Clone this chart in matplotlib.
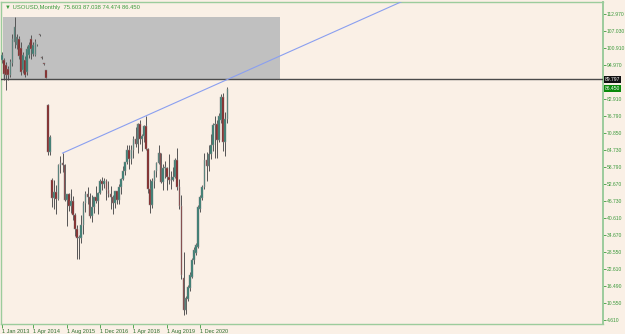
import matplotlib
matplotlib.use("Agg")
import matplotlib.pyplot as plt
from matplotlib.patches import Rectangle

plt.rcParams['font.family'] = ['Liberation Sans', 'DejaVu Sans']

# Monthly USOUSD candles, Jan 2013 .. Jan 2022 (index 0 = Jan 2013)
opens = [96.7, 96.7, 94.9, 93.5, 91.4, 95.5, 103.0, 102.0, 104.0, 101.0, 93.0, 96.7,
         92.4, 98.5, 104.0, 98.9, 98.5, 101.8, 105.8, 97.8, 95.5, 93.0, 80.7, 64.1,
         54.2, 47.8, 49.8, 47.6, 59.6, 60.3, 59.5, 47.1, 49.2, 45.1, 46.6, 41.65,
         37.0, 33.6, 33.75, 38.3, 45.9, 49.1, 48.3, 41.6, 44.7, 48.2, 46.9, 49.4,
         53.7, 52.8, 54.0, 50.6, 49.3, 48.3, 46.0, 50.2, 47.2, 51.7, 54.4, 57.4,
         60.4, 64.7, 61.6, 64.9, 68.6, 67.0, 74.1, 68.8, 69.8, 73.2, 65.3, 50.9,
         45.4, 53.8, 57.2, 60.1, 63.9, 53.5, 58.5, 58.6, 55.1, 54.1, 54.2, 55.2,
         61.1, 51.6, 44.8, 19.5, 8.2, 12.0, 16.0, 20.0, 25.8, 28.5, 30.5, 44.0,
         47.8, 51.7, 61.3, 59.2, 63.5, 66.6, 73.5, 73.9, 68.5, 75.5, 83.5, 67.6,
         75.603]
highs = [99.5, 97.5, 96.0, 94.5, 97.0, 106.0, 112.0, 106.0, 105.0, 103.0, 99.5, 98.0,
         101.5, 103.0, 105.5, 103.0, 104.0, 102.3, 106.0, 98.0, 95.7, 93.2, 81.0, 70.0,
         55.0, 54.2, 52.5, 59.9, 62.6, 63.7, 59.9, 49.3, 49.4, 50.9, 48.4, 42.6,
         38.4, 34.8, 41.9, 46.8, 50.2, 51.7, 49.4, 48.8, 48.3, 51.9, 49.9, 54.5,
         55.2, 54.9, 54.6, 53.8, 52.0, 49.0, 50.4, 50.4, 52.9, 54.9, 59.1, 60.5,
         66.7, 66.7, 66.6, 69.6, 72.8, 74.5, 75.3, 70.5, 73.8, 76.9, 65.6, 54.5,
         55.0, 57.8, 60.7, 66.6, 63.9, 59.9, 60.9, 58.8, 63.4, 57.4, 58.7, 61.8,
         65.6, 54.7, 48.7, 28.7, 13.0, 17.0, 21.5, 26.5, 30.5, 32.0, 45.5, 49.0,
         52.5, 63.8, 64.0, 66.5, 70.5, 74.5, 77.0, 75.5, 77.8, 84.5, 85.0, 78.3,
         87.038]
lows = [95.5, 89.6, 86.1, 89.5, 90.5, 94.5, 101.0, 100.5, 97.0, 91.5, 92.0, 90.5,
        91.5, 97.5, 97.0, 98.0, 98.0, 101.6, 105.2, 97.0, 95.0, 90.2, 63.0, 63.0,
        44.5, 44.0, 42.0, 47.0, 56.5, 57.0, 46.7, 37.8, 43.2, 42.6, 40.0, 34.5,
        26.2, 26.05, 32.0, 35.2, 43.0, 45.8, 40.6, 39.2, 42.5, 46.2, 42.2, 49.3,
        50.7, 51.2, 47.1, 48.2, 43.8, 42.1, 44.3, 45.6, 45.6, 49.1, 54.2, 55.8,
        59.9, 58.1, 59.9, 62.0, 66.0, 63.6, 67.0, 64.4, 67.6, 64.9, 49.4, 42.4,
        44.4, 51.2, 55.3, 60.0, 53.0, 50.6, 54.9, 50.5, 52.8, 50.9, 54.0, 55.0,
        50.6, 44.0, 19.3, 6.4, 6.9, 11.5, 15.0, 19.5, 24.5, 27.5, 30.0, 43.0,
        47.0, 51.0, 54.0, 57.5, 61.5, 64.5, 62.0, 61.8, 67.5, 74.5, 64.5, 62.5,
        74.474]
closes = [98.5, 91.7, 91.4, 91.4, 96.0, 104.0, 108.5, 104.8, 98.0, 92.5, 98.5, 91.4,
          100.6, 102.0, 100.6, 102.0, 103.0, 102.0, 105.5, 97.3, 95.2, 90.4, 64.1, 69.4,
          47.8, 49.8, 47.6, 59.6, 60.3, 59.5, 47.1, 49.2, 45.1, 46.6, 41.65, 37.0,
          33.6, 33.75, 38.3, 45.9, 49.1, 48.3, 41.6, 44.7, 48.2, 46.9, 49.4, 53.7,
          52.8, 54.0, 50.6, 49.3, 48.3, 46.0, 50.2, 47.2, 51.7, 54.4, 57.4, 60.4,
          64.7, 61.6, 64.9, 68.6, 67.0, 74.1, 68.8, 69.8, 73.2, 65.3, 50.9, 45.4,
          53.8, 57.2, 60.1, 63.9, 53.5, 58.5, 58.6, 55.1, 54.1, 54.2, 55.2, 61.1,
          51.6, 44.8, 20.5, 8.2, 12.4, 16.3, 20.5, 25.8, 29.4, 31.2, 44.5, 48.2,
          51.7, 61.3, 59.2, 63.5, 66.6, 73.5, 73.9, 68.5, 77.0, 83.5, 67.6, 75.6,
          86.450]

# x labels (month index from Jan 2013)
date_ticks = [0, 15, 31, 47, 63, 79, 95]
date_labels = ["1 Jan 2013", "1 Apr 2014", "1 Aug 2015", "1 Dec 2016",
               "1 Apr 2018", "1 Aug 2019", "1 Dec 2020"]
price_ticks = [112.970, 107.030, 100.910, 94.970, 82.910, 76.790, 70.850, 64.730,
               58.790, 52.670, 46.730, 40.610, 34.670, 28.550, 22.610, 16.490,
               10.550, 4.610]

hline_price = 89.797
last_price = 86.450
# trend line anchors (month index, price)
trend_x = [29, 69]
trend_y = [63.7, 76.9]
# grey rectangle (month index range, price range)
rect_x = [0.6, 133]
rect_y = [89.797, 112.0]

BG = '#faf0e6'
GREEN = '#3c9a3c'
AXIS = '#9ccc9c'
BULL = '#2e7d6f'
BEAR = '#841b1b'

fig = plt.figure(figsize=(6.25, 3.34), dpi=100, facecolor=BG)
ax = fig.add_axes([0.0016, 0.0299, 0.9632, 0.9940 - 0.0299])
ax.set_facecolor(BG)

ax.add_patch(Rectangle((rect_x[0], rect_y[0]), rect_x[1] - rect_x[0], rect_y[1] - rect_y[0],
                       facecolor='#c0c0c0', edgecolor='none', zorder=1))

n = len(opens)
idx = list(range(n))
ax.vlines(idx, lows, highs, color='#555555', linewidth=0.7, zorder=3)
bottoms = [min(o, c) for o, c in zip(opens, closes)]
heights = [max(abs(c - o), 0.25) for o, c in zip(opens, closes)]
colors = [BULL if c >= o else BEAR for o, c in zip(opens, closes)]
ax.bar(idx, heights, bottom=bottoms, width=0.8, color=colors,
       edgecolor='#8c8c8c', linewidth=0.35, zorder=4)

ax.axhline(hline_price, color='#4a4a4a', linewidth=1.0, zorder=5)

# extend the trend line as a ray
slope = (trend_y[1] - trend_y[0]) / (trend_x[1] - trend_x[0])
ray_end = 300
ax.plot([trend_x[0], ray_end], [trend_y[0], trend_y[0] + slope * (ray_end - trend_x[0])],
        color='#8a9ff0', linewidth=0.8, zorder=5)

ax.set_xlim(-0.48, 288)
ax.set_ylim(3.19, 117.2)

ax.yaxis.tick_right()
ax.set_yticks(price_ticks)
ax.set_yticklabels([f"{p:.3f}" for p in price_ticks])
ax.tick_params(axis='y', colors=GREEN, labelsize=3.6, length=2, width=0.6, pad=0.6)
ax.set_xticks(date_ticks)
ax.set_xticklabels(date_labels)
ax.tick_params(axis='x', colors=GREEN, labelsize=4, length=3, width=0.6, pad=0.5)
for lbl in ax.get_xticklabels():
    lbl.set_ha('left')
    lbl.set_color('#2f6f2f')

for sp in ax.spines.values():
    sp.set_color(AXIS)
    sp.set_linewidth(1.0)
ax.spines['right'].set_linewidth(1.4)

# price boxes on the axis
ytr = ax.get_yaxis_transform()
ax.text(1.003, hline_price, f"{hline_price:.3f}", transform=ytr, fontsize=3.6, color='white',
        va='center', ha='left', zorder=10, clip_on=False,
        bbox=dict(boxstyle='square,pad=0.2', facecolor='#111111', edgecolor='none'))
ax.text(1.003, last_price, f"{last_price:.3f}", transform=ytr, fontsize=3.6, color='white',
        va='center', ha='left', zorder=10, clip_on=False,
        bbox=dict(boxstyle='square,pad=0.2', facecolor='#0a8a0a', edgecolor='none'))

ax.text(0.006, 0.992, "\u25bc USOUSD,Monthly  75.603 87.038 74.474 86.450",
        transform=ax.transAxes, fontsize=4.2, color=GREEN, va='top', ha='left', zorder=10)

fig.savefig("out.png", dpi=100, facecolor=BG)
